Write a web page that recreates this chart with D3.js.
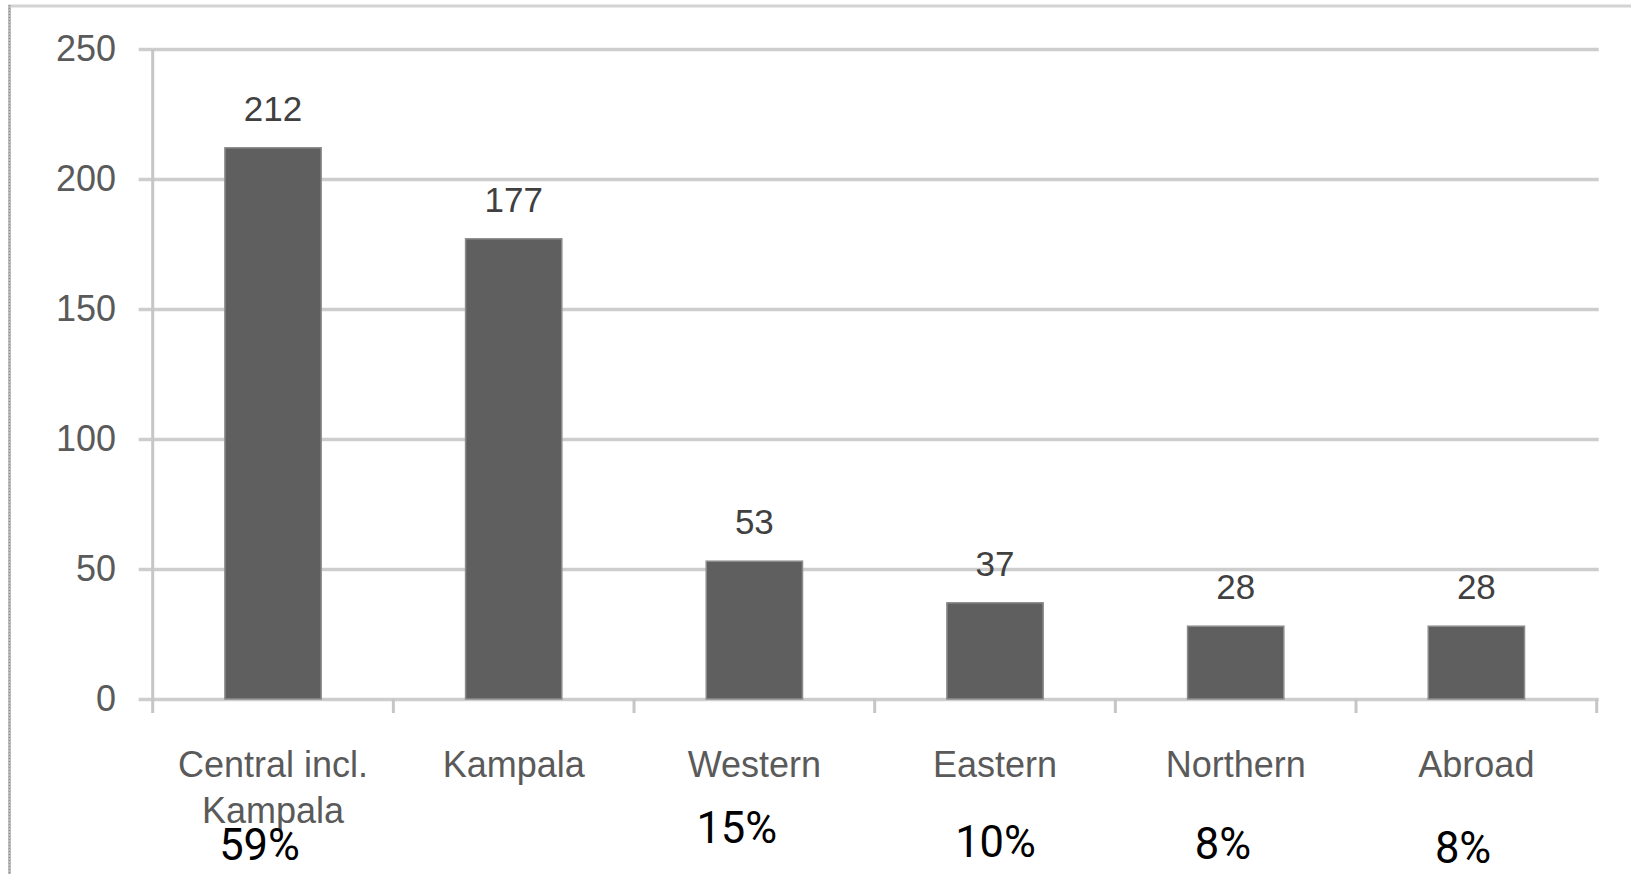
<!DOCTYPE html>
<html>
<head>
<meta charset="utf-8">
<script src="https://cdn.jsdelivr.net/npm/d3@7"></script>
<style>
  html, body { margin: 0; padding: 0; background: #ffffff; }
  svg { display: block; }
</style>
</head>
<body>
<svg id="chart" width="1631" height="874"></svg>
<script>
// ---- data ----
const categories = ["Central incl. Kampala", "Kampala", "Western", "Eastern", "Northern", "Abroad"];
const values = [212, 177, 53, 37, 28, 28];
const yTicks = [0, 50, 100, 150, 200, 250];
const shareLabels = ["59%", "", "15%", "10%", "8%", "8%"];
// hand-placed annotation nudges (horizontal offset, baseline) for the share labels
const shareDx = [-13.5, 0, -17.6, 0.5, -12.7, -13.3];
const shareBaseline = [860, 0, 843, 857, 859, 863];

// ---- layout ----
const W = 1631, H = 874;
const plotLeft = 152.7, plotRight = 1596.7, plotTop = 49, plotBottom = 699;
const fontMain = "'Liberation Sans', Arial, sans-serif";

const svg = d3.select("#chart");

const x = d3.scaleBand().domain(categories).range([plotLeft, plotRight]).paddingInner(0).paddingOuter(0);
const y = d3.scaleLinear().domain([0, 250]).range([plotBottom, plotTop]);
const bw = x.bandwidth();

// frame lines (top border + dotted left border)
svg.append("line").attr("x1", 8).attr("x2", W).attr("y1", 6).attr("y2", 6)
  .attr("stroke", "#d3d3d3").attr("stroke-width", 3);
svg.append("line").attr("x1", 9.5).attr("x2", 9.5).attr("y1", 5).attr("y2", H)
  .attr("stroke", "#bdbdbd").attr("stroke-width", 3);
svg.append("line").attr("x1", 9.5).attr("x2", 9.5).attr("y1", 5).attr("y2", H)
  .attr("stroke", "#8e8e8e").attr("stroke-width", 1.2).attr("stroke-dasharray", "1,2");

// gridlines (via axis)
const grid = svg.append("g").attr("transform", `translate(${plotLeft},0)`)
  .call(d3.axisLeft(y).tickValues(yTicks).tickSizeInner(-(plotRight - plotLeft + 2)).tickSizeOuter(0).tickFormat(""));
grid.select(".domain").remove();
grid.selectAll(".tick line").attr("stroke", "#cdcdcd").attr("stroke-width", 3.5);

// y axis with labels + small outward ticks
const yAxis = svg.append("g").attr("transform", `translate(${plotLeft},0)`)
  .call(d3.axisLeft(y).tickValues(yTicks).tickSizeInner(14).tickSizeOuter(0).tickPadding(22.7));
yAxis.select(".domain").remove();
yAxis.selectAll(".tick line").attr("stroke", "#cdcdcd").attr("stroke-width", 3.5);
yAxis.selectAll(".tick text")
  .attr("font-family", fontMain).attr("font-size", 36).attr("fill", "#5a5a5a");

// vertical axis line, extended slightly below zero
svg.append("line").attr("x1", plotLeft).attr("x2", plotLeft)
  .attr("y1", y(250)).attr("y2", plotBottom + 14)
  .attr("stroke", "#c6c6c6").attr("stroke-width", 3);

// category boundary ticks below the x axis
const boundaries = categories.map(c => x(c)).slice(1).concat([plotRight]);
svg.append("g").selectAll("line").data(boundaries).join("line")
  .attr("x1", d => d).attr("x2", d => d)
  .attr("y1", plotBottom).attr("y2", plotBottom + 14)
  .attr("stroke", "#c6c6c6").attr("stroke-width", 3);

// bars
svg.append("g").selectAll("rect").data(values).join("rect")
  .attr("x", (d, i) => x(categories[i]) + bw * 0.3)
  .attr("width", bw * 0.4)
  .attr("y", d => y(d))
  .attr("height", d => y(0) - y(d))
  .attr("fill", "#5f5f5f")
  .attr("stroke", "#8c8c8c")
  .attr("stroke-width", 1.5);

// value labels
svg.append("g").selectAll("text").data(values).join("text")
  .attr("x", (d, i) => x(categories[i]) + bw / 2)
  .attr("y", d => y(d) - 27)
  .attr("text-anchor", "middle")
  .attr("font-family", fontMain).attr("font-size", 35).attr("fill", "#404040")
  .text(d => d);

// x axis category labels (wrapped)
const xAxis = svg.append("g").attr("transform", `translate(0,${plotBottom})`)
  .call(d3.axisBottom(x).tickSize(0).tickPadding(0));
xAxis.select(".domain").remove();
xAxis.selectAll(".tick text")
  .attr("font-family", fontMain).attr("font-size", 36).attr("fill", "#5a5a5a")
  .attr("dy", null).attr("y", 78)
  .each(function(d) {
    const t = d3.select(this);
    const words = d.split(" ");
    t.text(null);
    let line = [];
    let tspan = t.append("tspan").attr("x", 0).attr("dy", 0);
    words.forEach(w => {
      line.push(w);
      tspan.text(line.join(" "));
      if (tspan.node().getComputedTextLength() > bw * 0.9 && line.length > 1) {
        line.pop();
        tspan.text(line.join(" "));
        line = [w];
        tspan = t.append("tspan").attr("x", 0).attr("dy", 46).text(w);
      }
    });
  });

// share annotations
const shares = svg.append("g");
shareLabels.forEach((s, i) => {
  if (!s) return;
  shares.append("text")
    .attr("x", x(categories[i]) + bw / 2 + shareDx[i])
    .attr("y", shareBaseline[i])
    .attr("text-anchor", "middle")
    .attr("font-family", "Roboto, 'Liberation Sans', sans-serif")
    .attr("font-size", 43.5)
    .attr("fill", "#000000")
    .text(s);
});
</script>
</body>
</html>
